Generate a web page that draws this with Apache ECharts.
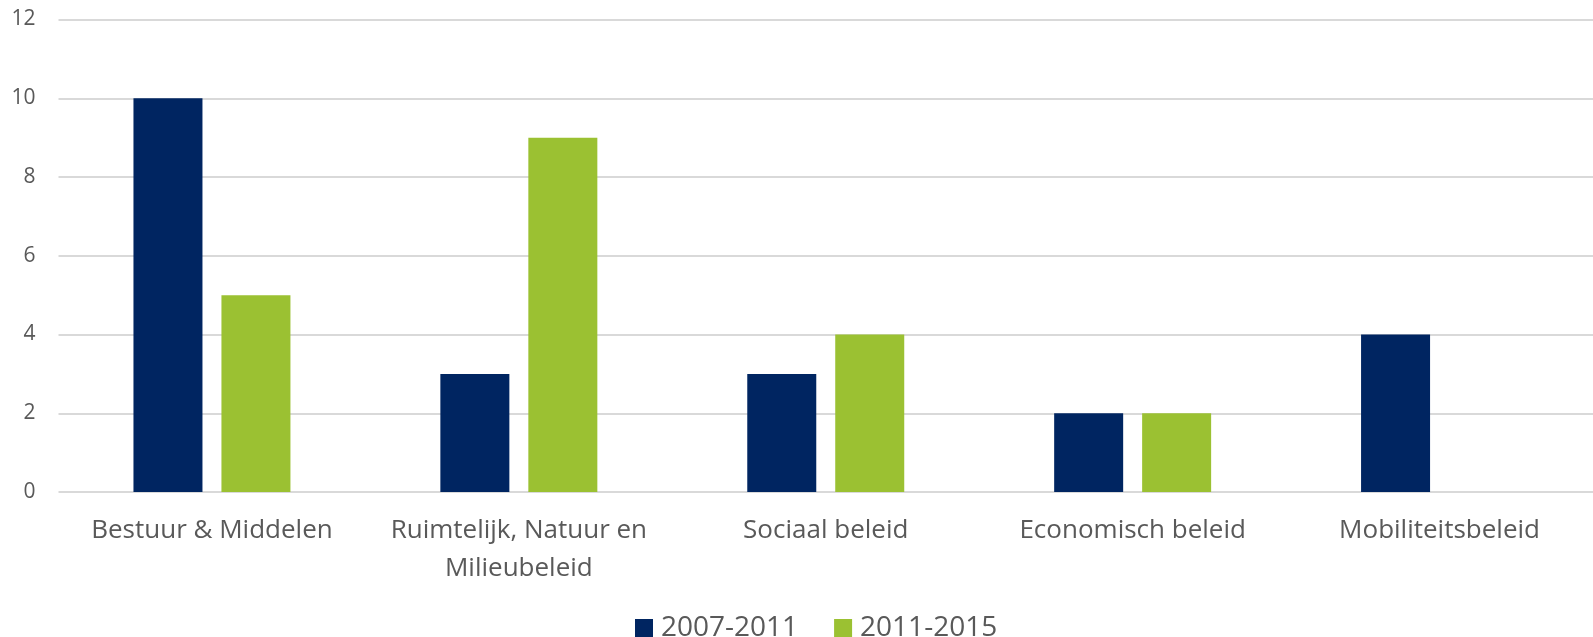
<!DOCTYPE html>
<html><head><meta charset="utf-8">
<script src="https://cdn.jsdelivr.net/npm/echarts@6/dist/echarts.min.js"></script>
<style>html,body{margin:0;padding:0;background:#fff}#c{width:1593px;height:637px}</style>
</head><body><div id="c"></div>
<script>
const categories = ["Bestuur & Middelen", "Ruimtelijk, Natuur en\nMilieubeleid", "Sociaal beleid", "Economisch beleid", "Mobiliteitsbeleid"];
const series2007 = [10, 3, 3, 2, 4];
const series2011 = [5, 9, 4, 2, null];
const seriesNames = ["2007-2011", "2011-2015"];
const yTicks = {min: 0, max: 12, interval: 2};

const chart = echarts.init(document.getElementById('c'));
const font = "'Open Sans', 'Noto Sans', sans-serif";
chart.setOption({
  animation: false,
  grid: {left: 58.5, right: -5.5, top: 19.5, bottom: 145, containLabel: false},
  legend: {
    left: 630, top: 609,
    itemWidth: 18, itemHeight: 18, itemGap: 36,
    icon: 'rect',
    textStyle: {color: '#595959', fontSize: 28, fontFamily: font, padding: [0,0,0,3]},
    data: seriesNames
  },
  xAxis: {
    type: 'category', data: categories,
    axisLine: {show: false}, axisTick: {show: false},
    axisLabel: {color: '#595959', fontSize: 26, fontFamily: font, margin: 20, lineHeight: 38, interval: 0}
  },
  yAxis: {
    type: 'value', min: yTicks.min, max: yTicks.max, interval: yTicks.interval,
    axisLabel: {color: '#595959', fontSize: 21, fontFamily: font, margin: 23},
    splitLine: {lineStyle: {color: '#d9d9d9', width: 2}},
    axisLine: {show: false}, axisTick: {show: false}
  },
  series: [
    {name: seriesNames[0], type: 'bar', data: series2007, barWidth: 69, barGap: '27.5%', itemStyle: {color: '#002561'}},
    {name: seriesNames[1], type: 'bar', data: series2011, barWidth: 69, itemStyle: {color: '#9bc132'}}
  ]
});
</script></body></html>
